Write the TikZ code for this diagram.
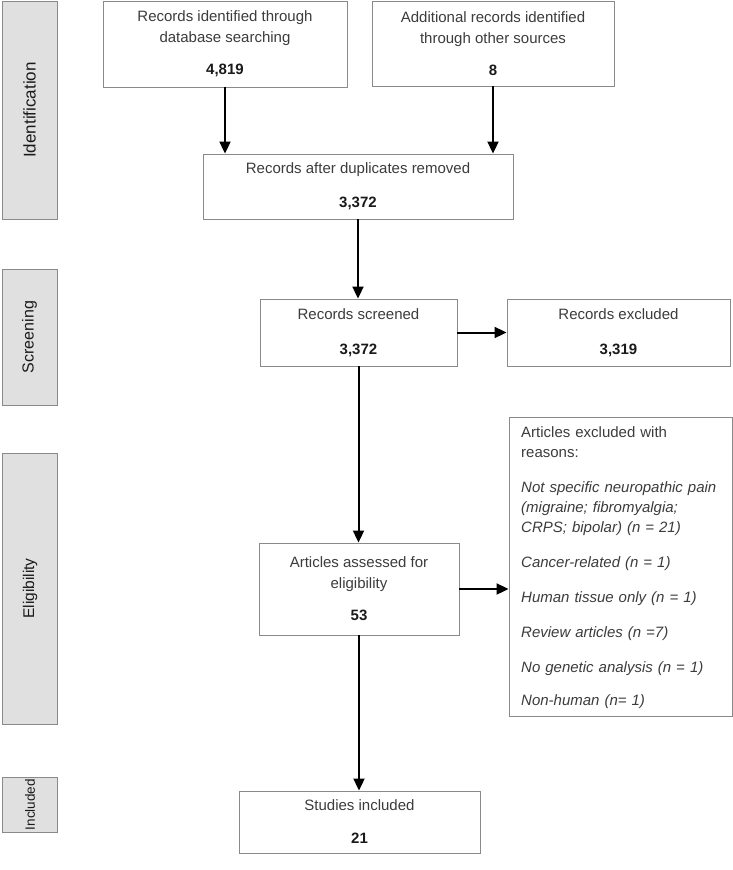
\documentclass[tikz,border=0pt]{standalone}
\usepackage{fontspec}
\setmainfont{Liberation Sans}
\usetikzlibrary{arrows.meta}
\definecolor{boxline}{HTML}{8A8A8A}
\definecolor{txt}{HTML}{3C3C3C}
\definecolor{numtxt}{HTML}{1A1A1A}
\definecolor{sidefill}{HTML}{E0E0E0}
\begin{document}
\begin{tikzpicture}[x=1pt,y=-1pt,
  box/.style={draw=boxline,line width=0.9pt,fill=white,align=center,text=txt,
    font=\fontsize{15}{21}\selectfont,inner sep=0pt},
  side/.style={draw=boxline,line width=0.9pt,fill=sidefill,
    minimum width=55pt,inner sep=0pt,text=numtxt},
  sidetext/.style={rotate=90,text=numtxt},
  arr/.style={line width=2pt,-{Triangle[length=12pt,width=11pt]}}
]
\useasboundingbox (0,0) rectangle (733,870);
\newcommand{\nb}[1]{\textbf{\color{numtxt}#1}}

% side bars
\node[side,minimum height=218pt] (sid) at (29.5,110) {};
\node[sidetext,font=\fontsize{17}{19}\selectfont] (sidt) at (sid.center) {Identification};
\node[side,minimum height=136pt] (sscr) at (29.5,337) {};
\node[sidetext,font=\fontsize{16}{18}\selectfont] (sscrt) at (sscr.center) {Screening};
\node[side,minimum height=271pt] (selg) at (30,588.5) {};
\node[sidetext,font=\fontsize{15.5}{17}\selectfont] (selgt) at (selg.center) {Eligibility};
\node[side,minimum height=55pt] (sinc) at (30,804.5) {};
\node[sidetext,font=\fontsize{13.5}{15}\selectfont] (sinct) at (sinc.center) {Included};

% boxes
\node[box,minimum width=244pt,minimum height=86pt] (A) at (225,44)
  {Records identified through\\database searching\\[11pt]\nb{4,819}};
\node[box,minimum width=242pt,minimum height=85pt] (B) at (493,43.5)
  {Additional records identified\\through other sources\\[11pt]\nb{8}};
\node[box,minimum width=310pt,minimum height=65pt] (C) at (358,186.5)
  {Records after duplicates removed\\[13pt]\nb{3,372}};
\node[box,minimum width=197pt,minimum height=67pt] (D) at (358.5,332.5)
  {Records screened\\[14pt]\nb{3,372}};
\node[box,minimum width=223pt,minimum height=67pt] (E) at (618.5,332.5)
  {Records excluded\\[14pt]\nb{3,319}};
\node[box,minimum width=200pt,minimum height=92pt] (F) at (359,589)
  {Articles assessed for\\eligibility\\[11pt]\nb{53}};
\node[box,minimum width=223pt,minimum height=299pt] (G) at (620.5,566.5) {};
\node[anchor=north west,align=left,text=txt,inner sep=0pt,text width=208pt,
  font=\fontsize{15}{20}\selectfont] (Gt) at (521,426)
  {Articles excluded with\\reasons:\\[15pt]
   \textit{Not specific neuropathic pain}\\\textit{(migraine; fibromyalgia;}\\\textit{CRPS; bipolar) (n = 21)}\\[15pt]
   \textit{Cancer-related (n = 1)}\\[15pt]
   \textit{Human tissue only (n = 1)}\\[15pt]
   \textit{Review articles (n =7)}\\[15pt]
   \textit{No genetic analysis (n = 1)}\\[13pt]
   \textit{Non-human (n= 1)}};
\node[box,minimum width=241pt,minimum height=62pt] (H) at (359.5,822)
  {Studies included\\[12pt]\nb{21}};

% arrows
\draw[arr] (A.south) -- (A.south |- C.north);
\draw[arr] (B.south) -- (B.south |- C.north);
\draw[arr] (C.south) -- (C.south |- D.north);
\draw[arr] (D.east) -- (D.east -| E.west);
\draw[arr] (D.south) -- (D.south |- F.north);
\draw[arr] (F.east) -- (F.east -| G.west);
\draw[arr] (F.south) -- (F.south |- H.north);
\end{tikzpicture}
\end{document}
